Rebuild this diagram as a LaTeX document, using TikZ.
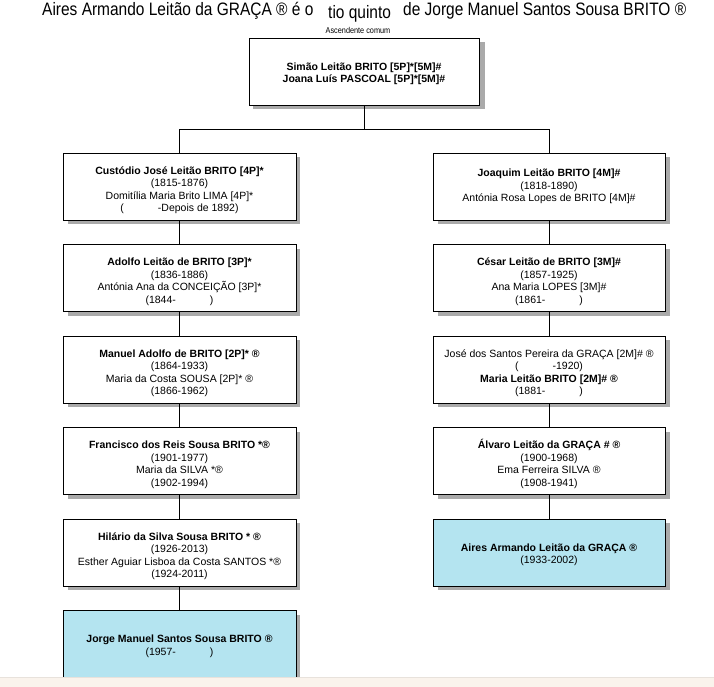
\documentclass[tikz,border=0pt]{standalone}
\usepackage{fontspec}
\setmainfont{Liberation Sans}
\newfontfamily\titlefont[FakeStretch=0.86]{Liberation Sans}
\usetikzlibrary{shapes,arrows,positioning,calc}
\definecolor{targetblue}{RGB}{180,228,240}
\definecolor{footpeach}{RGB}{250,243,236}
\definecolor{shadowgray}{RGB}{170,170,170}
\newcommand{\gap}{\hspace{34pt}}
\newcommand{\lift}{\rule{0pt}{15pt}}
\tikzset{
block/.style = {draw, fill=white, rectangle, align = center, inner sep=0pt,
  minimum width=233pt, minimum height=67pt, font=\fontsize{10.5}{12.4}\selectfont},
target/.style = {block, fill=targetblue},
headline/.style = {anchor=base west, inner sep=0pt, font=\titlefont\fontsize{18}{20}\selectfont},
}

\begin{document}
\begin{tikzpicture}[x=1pt, y=1pt, node distance=91.5pt]
      \useasboundingbox (0,0) rectangle (714,-687);
      % shadows, drawn first so the boxes cover them
      \foreach \sx/\sy in {364/-71.5, 179.5/-186.5, 179.5/-278, 179.5/-369.5, 179.5/-461, 179.5/-552.5, 179.5/-644,
                           549/-186.5, 549/-278, 549/-369.5, 549/-461, 549/-552.5}
        \fill [shadowgray] (\sx-111.5,\sy-37.5) rectangle (\sx+120.5,\sy+29.5);
      % title
      \node [headline, name=title1] (title1) at (42,-16) {Aires Armando Leitão da GRAÇA ® é o};
      \node [headline, name=title2] (title2) at (328,-18.5) {tio quinto};
      \node [headline, name=title3] (title3) at (403,-16) {de Jorge Manuel Santos Sousa BRITO ®};
      \node [font=\titlefont\fontsize{8.5}{9}\selectfont, name=common] (common) at (358,-30.5) {Ascendente comum};
      % common ancestors
      \node [block, name=top, minimum width=230pt] (top) at (364,-71.5)
         {\rule{0pt}{12pt}\textbf{Simão Leitão BRITO [5P]*[5M]\#}\\\textbf{Joana Luís PASCOAL [5P]*[5M]\#}};
      \coordinate [below of = top, node distance = 58pt] (fork);
      % left line
      \node [block, name=custodio] (custodio) at (179.5,-186.5)
         {\lift\textbf{Custódio José Leitão BRITO [4P]*}\\(1815-1876)\\Domitília Maria Brito LIMA [4P]*\\(\gap-Depois de 1892)};
      \node [block, name=adolfo, below of = custodio] (adolfo)
         {\lift\textbf{Adolfo Leitão de BRITO [3P]*}\\(1836-1886)\\Antónia Ana da CONCEIÇÃO [3P]*\\(1844-\gap)};
      \node [block, name=manuel, below of = adolfo] (manuel)
         {\lift\textbf{Manuel Adolfo de BRITO [2P]* ®}\\(1864-1933)\\Maria da Costa SOUSA [2P]* ®\\(1866-1962)};
      \node [block, name=francisco, below of = manuel] (francisco)
         {\lift\textbf{Francisco dos Reis Sousa BRITO *®}\\(1901-1977)\\Maria da SILVA *®\\(1902-1994)};
      \node [block, name=hilario, below of = francisco] (hilario)
         {\lift\textbf{Hilário da Silva Sousa BRITO * ®}\\(1926-2013)\\Esther Aguiar Lisboa da Costa SANTOS *®\\(1924-2011)};
      \node [target, name=jorge, below of = hilario] (jorge)
         {\rule{0pt}{12pt}\textbf{Jorge Manuel Santos Sousa BRITO ®}\\(1957-\gap)};
      % right line
      \node [block, name=joaquim, minimum width=232pt] (joaquim) at (549,-186.5)
         {\textbf{Joaquim Leitão BRITO [4M]\#}\\(1818-1890)\\Antónia Rosa Lopes de BRITO [4M]\#};
      \node [block, name=cesar, minimum width=232pt, below of = joaquim] (cesar)
         {\lift\textbf{César Leitão de BRITO [3M]\#}\\(1857-1925)\\Ana Maria LOPES [3M]\#\\(1861-\gap)};
      \node [block, name=maria, minimum width=232pt, below of = cesar] (maria)
         {\lift José dos Santos Pereira da GRAÇA [2M]\# ®\\(\gap-1920)\\\textbf{Maria Leitão BRITO [2M]\# ®}\\(1881-\gap)};
      \node [block, name=alvaro, minimum width=232pt, below of = maria] (alvaro)
         {\lift\textbf{Álvaro Leitão da GRAÇA \# ®}\\(1900-1968)\\Ema Ferreira SILVA ®\\(1908-1941)};
      \node [target, name=aires, minimum width=232pt, below of = alvaro] (aires)
         {\rule{0pt}{12pt}\textbf{Aires Armando Leitão da GRAÇA ®}\\(1933-2002)};
      % connectors
      \draw [-] (top) -- (fork);
      \draw [-] (fork) -| (custodio);
      \draw [-] (fork) -| (joaquim);
      \draw [-] (custodio) -- (adolfo);
      \draw [-] (adolfo) -- (manuel);
      \draw [-] (manuel) -- (francisco);
      \draw [-] (francisco) -- (hilario);
      \draw [-] (hilario) -- (jorge);
      \draw [-] (joaquim) -- (cesar);
      \draw [-] (cesar) -- (maria);
      \draw [-] (maria) -- (alvaro);
      \draw [-] (alvaro) -- (aires);
      % footer strip
      \fill [footpeach] (0,-677) rectangle (714,-687);
      \draw [footpeach!85!gray] (0,-677) -- (714,-677);
\end{tikzpicture}
\end{document}
